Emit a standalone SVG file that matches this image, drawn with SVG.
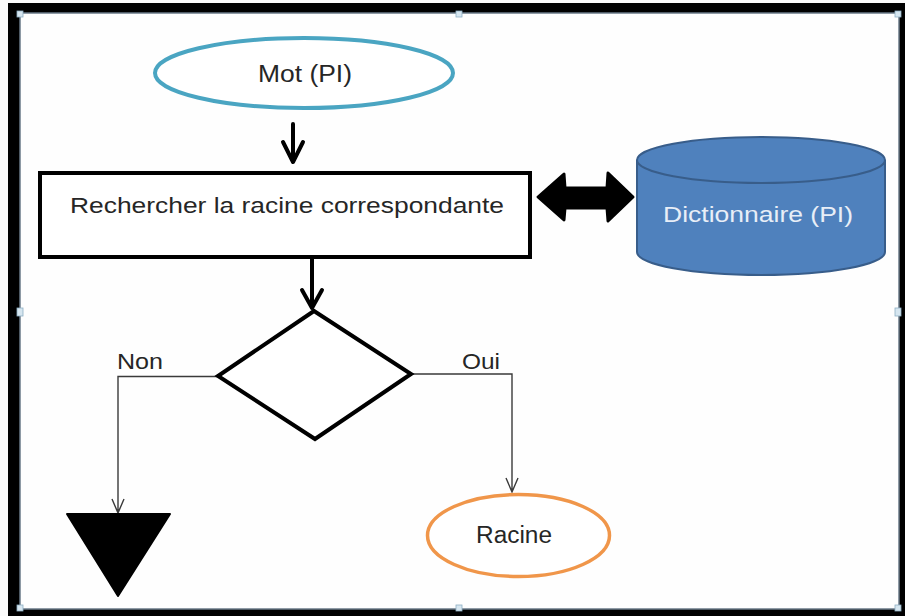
<svg xmlns="http://www.w3.org/2000/svg" width="905" height="616" viewBox="0 0 905 616">
  <style>
    .lbl { font-family: "Liberation Sans", Arial, sans-serif; fill: #262626; }
    .thick { fill: none; stroke: #000; stroke-width: 4; stroke-linecap: round; stroke-linejoin: round; }
    .thin { fill: none; stroke: #3a3a3a; stroke-width: 1.4; }
    .handle { fill: #d6e6f0; stroke: #8fb0c4; stroke-width: 0.8; }
  </style>

  <!-- frame -->
  <rect x="0" y="0" width="905" height="616" fill="#fafafa"/>
  <rect x="8" y="3" width="897" height="613" fill="#000"/>
  <rect x="20" y="13" width="879" height="596" fill="#fefefe" stroke="#6a7a88" stroke-width="1.5"/>

  <!-- selection handles -->
  <g id="handles">
    <rect class="handle" x="17" y="11" width="6" height="6"/>
    <rect class="handle" x="456" y="11" width="6" height="6"/>
    <rect class="handle" x="895" y="11" width="6" height="6"/>
    <rect class="handle" x="17" y="308" width="6" height="8"/>
    <rect class="handle" x="895" y="308" width="6" height="8"/>
    <rect class="handle" x="17" y="605" width="6" height="6"/>
    <rect class="handle" x="456" y="605" width="6" height="6"/>
    <rect class="handle" x="895" y="605" width="6" height="6"/>
  </g>

  <!-- connectors -->
  <g id="connectors">
    <path class="thick" d="M293,124 V162 M283,142 L293,162 L303,142"/>
    <path class="thick" d="M312,258 V308 M302,290 L312,308 L322,290"/>
    <path class="thin" d="M218,376.5 H118 V513 M112,499 L118,513 L124,499"/>
    <path class="thin" d="M411,374 H512 V492 M506,478 L512,492 L518,478"/>
    <path d="M538,197 L564,174 L565,188 L607,188 L608,173 L633,197 L608,221 L607,208 L565,208 L564,220 Z" fill="#000" stroke="#000" stroke-width="3" stroke-linejoin="round"/>
    <text class="lbl" x="117" y="369" font-size="22" textLength="46" lengthAdjust="spacingAndGlyphs">Non</text>
    <text class="lbl" x="462" y="369" font-size="22" textLength="38" lengthAdjust="spacingAndGlyphs">Oui</text>
  </g>

  <!-- start: Mot (PI) -->
  <g id="mot">
    <ellipse cx="304" cy="73" rx="149" ry="35" fill="#fff" stroke="#4aa5c2" stroke-width="4"/>
    <text class="lbl" x="305" y="82" font-size="23" text-anchor="middle" textLength="94" lengthAdjust="spacingAndGlyphs">Mot (PI)</text>
  </g>

  <!-- process -->
  <g id="rechercher">
    <rect x="40" y="173" width="490" height="84" fill="#fff" stroke="#000" stroke-width="4"/>
    <text class="lbl" x="287" y="213" font-size="22" text-anchor="middle" textLength="434" lengthAdjust="spacingAndGlyphs">Rechercher la racine correspondante</text>
  </g>

  <!-- dictionary store -->
  <g id="dictionnaire">
    <path d="M637,160 V252 A124,23 0 0 0 885,252 V160" fill="#4f81bd" stroke="#385d8a" stroke-width="2"/>
    <ellipse cx="761" cy="160" rx="124" ry="23" fill="#4f81bd" stroke="#385d8a" stroke-width="2"/>
    <text x="758" y="222" font-size="22" text-anchor="middle" font-family="Liberation Sans, Arial, sans-serif" fill="#e8eef7" textLength="190" lengthAdjust="spacingAndGlyphs">Dictionnaire (PI)</text>
  </g>

  <!-- decision -->
  <g id="decision">
    <path d="M314,311 L411,374 L315,439 L218,376 Z" fill="#fff" stroke="#000" stroke-width="4" stroke-linejoin="miter"/>
  </g>

  <!-- end: not found -->
  <g id="fin">
    <path d="M67,514 L170,514 L118,596 Z" fill="#000" stroke="#000" stroke-width="2" stroke-linejoin="round"/>
  </g>

  <!-- end: Racine -->
  <g id="racine">
    <ellipse cx="518.5" cy="535.5" rx="91" ry="41" fill="#fff" stroke="#f0964a" stroke-width="3.5"/>
    <text class="lbl" x="514" y="543" font-size="23" text-anchor="middle" textLength="76" lengthAdjust="spacingAndGlyphs">Racine</text>
  </g>
</svg>
